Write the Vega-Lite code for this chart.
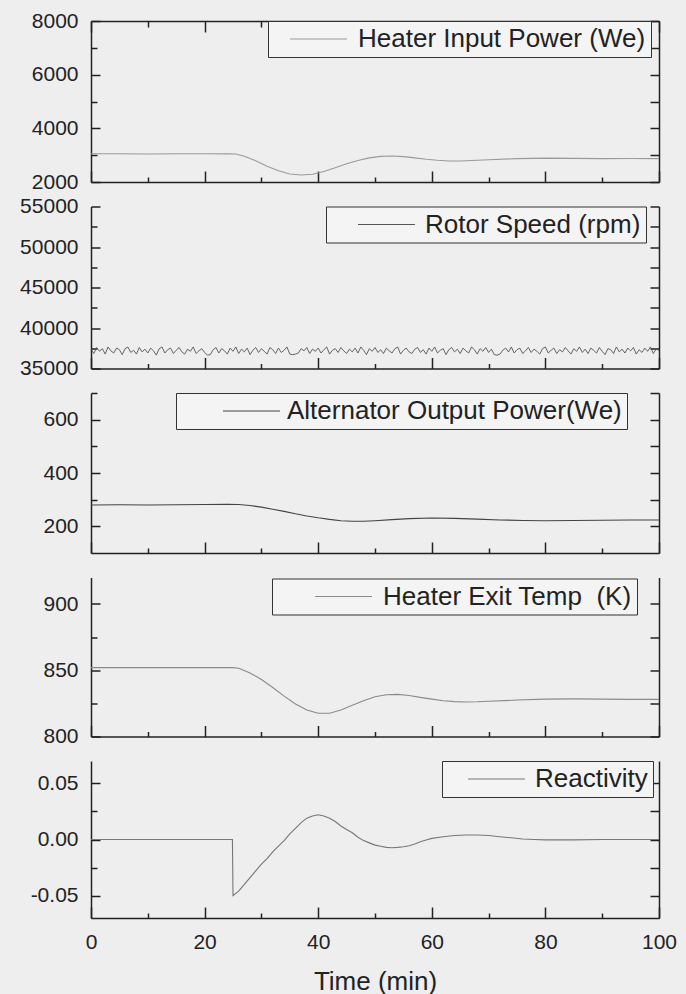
{
  "$schema": "https://vega.github.io/schema/vega-lite/v6.json",
  "background": "#eeeeee",
  "padding": {"left": 19, "top": 10, "right": 10, "bottom": 5},
  "spacing": 24.5,
  "bounds": "flush",
  "config": {
    "view": {"stroke": null},
    "font": "Liberation Sans",
    "axis": {"grid": false, "domainColor": "#222222", "domainWidth": 1.5, "tickColor": "#222222", "tickWidth": 1.5, "labelFont": "Liberation Sans", "labelFontSize": 21, "labelColor": "#222222", "titleFont": "Liberation Sans", "titleFontSize": 26, "titleFontWeight": "normal", "titleColor": "#222222"},
    "legend": {"symbolType": "M-5.7,0H5.7", "symbolSize": 100, "symbolStrokeWidth": 1.2, "labelFont": "Liberation Sans", "labelFontSize": 26, "labelColor": "#222222", "strokeColor": "#333333", "fillColor": "#f4f4f4", "padding": 5, "labelLimit": 0},
    "line": {"strokeWidth": 1.1}
  },
  "resolve": {"scale": {"color": "independent"}},
  "datasets": {
    "hip": [
      {"t": 0, "v": 3050}, {"t": 5, "v": 3055}, {"t": 10, "v": 3045}, {"t": 15, "v": 3055}, {"t": 20, "v": 3050}, {"t": 24, "v": 3050}, {"t": 25.5, "v": 3045}, {"t": 27, "v": 2960}, {"t": 29, "v": 2790}, {"t": 31, "v": 2590}, {"t": 33, "v": 2420}, {"t": 35, "v": 2300}, {"t": 37, "v": 2260}, {"t": 39, "v": 2290}, {"t": 41, "v": 2390}, {"t": 43, "v": 2530}, {"t": 45, "v": 2680}, {"t": 47, "v": 2800}, {"t": 49, "v": 2900}, {"t": 51, "v": 2955}, {"t": 53, "v": 2970}, {"t": 55, "v": 2945}, {"t": 57, "v": 2900}, {"t": 59, "v": 2850}, {"t": 61, "v": 2810}, {"t": 63, "v": 2785}, {"t": 65, "v": 2785}, {"t": 67, "v": 2800}, {"t": 70, "v": 2830}, {"t": 75, "v": 2870}, {"t": 80, "v": 2890}, {"t": 85, "v": 2880}, {"t": 90, "v": 2870}, {"t": 95, "v": 2875}, {"t": 100, "v": 2870}
    ],
    "rs": [
      {"t": 0, "v": 37390}, {"t": 0.5, "v": 36850}, {"t": 1, "v": 37590}, {"t": 1.5, "v": 37120}, {"t": 2, "v": 37450}, {"t": 2.5, "v": 36780}, {"t": 3, "v": 37660}, {"t": 3.5, "v": 37180}, {"t": 4, "v": 36910}, {"t": 4.5, "v": 37520},
      {"t": 5, "v": 37320}, {"t": 5.5, "v": 36710}, {"t": 6, "v": 37450}, {"t": 6.5, "v": 37660}, {"t": 7, "v": 36980}, {"t": 7.5, "v": 37250}, {"t": 8, "v": 36780}, {"t": 8.5, "v": 37590}, {"t": 9, "v": 37050}, {"t": 9.5, "v": 37390},
      {"t": 10, "v": 36910}, {"t": 10.5, "v": 37520}, {"t": 11, "v": 37180}, {"t": 11.5, "v": 36650}, {"t": 12, "v": 37450}, {"t": 12.5, "v": 37660}, {"t": 13, "v": 36910}, {"t": 13.5, "v": 37320}, {"t": 14, "v": 37520}, {"t": 14.5, "v": 36850},
      {"t": 15, "v": 37250}, {"t": 15.5, "v": 37590}, {"t": 16, "v": 37050}, {"t": 16.5, "v": 36780}, {"t": 17, "v": 37390}, {"t": 17.5, "v": 37120}, {"t": 18, "v": 37660}, {"t": 18.5, "v": 36850}, {"t": 19, "v": 37180}, {"t": 19.5, "v": 37450},
      {"t": 20, "v": 36980}, {"t": 20.5, "v": 36650}, {"t": 21, "v": 36710}, {"t": 21.5, "v": 37320}, {"t": 22, "v": 37590}, {"t": 22.5, "v": 36910}, {"t": 23, "v": 37450}, {"t": 23.5, "v": 37180}, {"t": 24, "v": 36780}, {"t": 24.5, "v": 37520},
      {"t": 25, "v": 37120}, {"t": 25.5, "v": 37660}, {"t": 26, "v": 36850}, {"t": 26.5, "v": 37390}, {"t": 27, "v": 37050}, {"t": 27.5, "v": 37520}, {"t": 28, "v": 36710}, {"t": 28.5, "v": 37250}, {"t": 29, "v": 37590}, {"t": 29.5, "v": 36980},
      {"t": 30, "v": 37450}, {"t": 30.5, "v": 37120}, {"t": 31, "v": 36780}, {"t": 31.5, "v": 37590}, {"t": 32, "v": 37320}, {"t": 32.5, "v": 36850}, {"t": 33, "v": 37520}, {"t": 33.5, "v": 36980}, {"t": 34, "v": 37250}, {"t": 34.5, "v": 37660},
      {"t": 35, "v": 36780}, {"t": 35.5, "v": 36710}, {"t": 36, "v": 36780}, {"t": 36.5, "v": 36910}, {"t": 37, "v": 37450}, {"t": 37.5, "v": 37180}, {"t": 38, "v": 37590}, {"t": 38.5, "v": 36850}, {"t": 39, "v": 37390}, {"t": 39.5, "v": 37120},
      {"t": 40, "v": 37520}, {"t": 40.5, "v": 36910}, {"t": 41, "v": 37320}, {"t": 41.5, "v": 37660}, {"t": 42, "v": 36780}, {"t": 42.5, "v": 37250}, {"t": 43, "v": 37450}, {"t": 43.5, "v": 36980}, {"t": 44, "v": 37590}, {"t": 44.5, "v": 37180},
      {"t": 45, "v": 36850}, {"t": 45.5, "v": 37390}, {"t": 46, "v": 37050}, {"t": 46.5, "v": 37520}, {"t": 47, "v": 36910}, {"t": 47.5, "v": 37660}, {"t": 48, "v": 37250}, {"t": 48.5, "v": 36710}, {"t": 49, "v": 37450}, {"t": 49.5, "v": 37120},
      {"t": 50, "v": 37590}, {"t": 50.5, "v": 36980}, {"t": 51, "v": 37320}, {"t": 51.5, "v": 36850}, {"t": 52, "v": 37520}, {"t": 52.5, "v": 37180}, {"t": 53, "v": 36910}, {"t": 53.5, "v": 37450}, {"t": 54, "v": 37660}, {"t": 54.5, "v": 36780},
      {"t": 55, "v": 37250}, {"t": 55.5, "v": 37520}, {"t": 56, "v": 37050}, {"t": 56.5, "v": 36850}, {"t": 57, "v": 37390}, {"t": 57.5, "v": 37590}, {"t": 58, "v": 36980}, {"t": 58.5, "v": 37320}, {"t": 59, "v": 36780}, {"t": 59.5, "v": 37520},
      {"t": 60, "v": 37120}, {"t": 60.5, "v": 37660}, {"t": 61, "v": 36910}, {"t": 61.5, "v": 37250}, {"t": 62, "v": 37450}, {"t": 62.5, "v": 36710}, {"t": 63, "v": 37320}, {"t": 63.5, "v": 37590}, {"t": 64, "v": 37050}, {"t": 64.5, "v": 37390},
      {"t": 65, "v": 36850}, {"t": 65.5, "v": 37520}, {"t": 66, "v": 37180}, {"t": 66.5, "v": 36910}, {"t": 67, "v": 37660}, {"t": 67.5, "v": 37320}, {"t": 68, "v": 36780}, {"t": 68.5, "v": 37450}, {"t": 69, "v": 37120}, {"t": 69.5, "v": 37590},
      {"t": 70, "v": 36980}, {"t": 70.5, "v": 37390}, {"t": 71, "v": 36710}, {"t": 71.5, "v": 36650}, {"t": 72, "v": 36780}, {"t": 72.5, "v": 37250}, {"t": 73, "v": 37520}, {"t": 73.5, "v": 37050}, {"t": 74, "v": 37660}, {"t": 74.5, "v": 36910},
      {"t": 75, "v": 37320}, {"t": 75.5, "v": 37520}, {"t": 76, "v": 36850}, {"t": 76.5, "v": 37180}, {"t": 77, "v": 37590}, {"t": 77.5, "v": 36980}, {"t": 78, "v": 37390}, {"t": 78.5, "v": 37120}, {"t": 79, "v": 36780}, {"t": 79.5, "v": 37450},
      {"t": 80, "v": 37660}, {"t": 80.5, "v": 36910}, {"t": 81, "v": 37250}, {"t": 81.5, "v": 37520}, {"t": 82, "v": 36850}, {"t": 82.5, "v": 37320}, {"t": 83, "v": 37050}, {"t": 83.5, "v": 37590}, {"t": 84, "v": 37180}, {"t": 84.5, "v": 36780},
      {"t": 85, "v": 37450}, {"t": 85.5, "v": 37120}, {"t": 86, "v": 37660}, {"t": 86.5, "v": 36980}, {"t": 87, "v": 37390}, {"t": 87.5, "v": 36850}, {"t": 88, "v": 37520}, {"t": 88.5, "v": 37250}, {"t": 89, "v": 36910}, {"t": 89.5, "v": 37590},
      {"t": 90, "v": 37120}, {"t": 90.5, "v": 36710}, {"t": 91, "v": 37450}, {"t": 91.5, "v": 37320}, {"t": 92, "v": 36850}, {"t": 92.5, "v": 37660}, {"t": 93, "v": 37050}, {"t": 93.5, "v": 37390}, {"t": 94, "v": 36910}, {"t": 94.5, "v": 37520},
      {"t": 95, "v": 37180}, {"t": 95.5, "v": 37590}, {"t": 96, "v": 36780}, {"t": 96.5, "v": 37320}, {"t": 97, "v": 36980}, {"t": 97.5, "v": 37520}, {"t": 98, "v": 37120}, {"t": 98.5, "v": 37660}, {"t": 99, "v": 36850}, {"t": 99.5, "v": 37390},
      {"t": 100, "v": 37250}
    ],
    "ao": [
      {"t": 0, "v": 280}, {"t": 5, "v": 281}, {"t": 10, "v": 280}, {"t": 15, "v": 281}, {"t": 20, "v": 282}, {"t": 24, "v": 283}, {"t": 26, "v": 282}, {"t": 28, "v": 278}, {"t": 30, "v": 272}, {"t": 32, "v": 264}, {"t": 34, "v": 256}, {"t": 36, "v": 247}, {"t": 38, "v": 239}, {"t": 40, "v": 232}, {"t": 42, "v": 226}, {"t": 44, "v": 221}, {"t": 46, "v": 219}, {"t": 48, "v": 219}, {"t": 50, "v": 221}, {"t": 53, "v": 225}, {"t": 56, "v": 229}, {"t": 60, "v": 231}, {"t": 64, "v": 230}, {"t": 68, "v": 227}, {"t": 72, "v": 224}, {"t": 76, "v": 222}, {"t": 80, "v": 221}, {"t": 85, "v": 222}, {"t": 90, "v": 223}, {"t": 95, "v": 224}, {"t": 100, "v": 224}
    ],
    "het": [
      {"t": 0, "v": 852}, {"t": 10, "v": 852}, {"t": 20, "v": 852}, {"t": 25, "v": 852}, {"t": 26, "v": 851.5}, {"t": 28, "v": 848}, {"t": 30, "v": 843}, {"t": 32, "v": 837}, {"t": 34, "v": 830.5}, {"t": 36, "v": 824.5}, {"t": 38, "v": 820}, {"t": 40, "v": 817.5}, {"t": 42, "v": 817.5}, {"t": 44, "v": 820}, {"t": 46, "v": 823.5}, {"t": 48, "v": 827}, {"t": 50, "v": 830}, {"t": 52, "v": 831.5}, {"t": 54, "v": 831.8}, {"t": 56, "v": 831}, {"t": 58, "v": 829.5}, {"t": 60, "v": 828.2}, {"t": 62, "v": 827}, {"t": 64, "v": 826.3}, {"t": 66, "v": 826}, {"t": 68, "v": 826.2}, {"t": 70, "v": 826.6}, {"t": 75, "v": 827.5}, {"t": 80, "v": 828.2}, {"t": 85, "v": 828.4}, {"t": 90, "v": 828.2}, {"t": 95, "v": 828}, {"t": 100, "v": 828}
    ],
    "re": [
      {"t": 0, "v": 0}, {"t": 10, "v": 0}, {"t": 20, "v": 0}, {"t": 24.9, "v": 0}, {"t": 25, "v": -0.05}, {"t": 26, "v": -0.046}, {"t": 27, "v": -0.04}, {"t": 28, "v": -0.034}, {"t": 29, "v": -0.028}, {"t": 30, "v": -0.022}, {"t": 31, "v": -0.017}, {"t": 32, "v": -0.011}, {"t": 33, "v": -0.006}, {"t": 34, "v": -0.001}, {"t": 35, "v": 0.005}, {"t": 36, "v": 0.01}, {"t": 37, "v": 0.015}, {"t": 38, "v": 0.019}, {"t": 39, "v": 0.021}, {"t": 40, "v": 0.022}, {"t": 41, "v": 0.021}, {"t": 42, "v": 0.019}, {"t": 43, "v": 0.016}, {"t": 44, "v": 0.012}, {"t": 45, "v": 0.009}, {"t": 46, "v": 0.006}, {"t": 47, "v": 0.002}, {"t": 48, "v": -0.001}, {"t": 49, "v": -0.003}, {"t": 50, "v": -0.005}, {"t": 51, "v": -0.006}, {"t": 52, "v": -0.007}, {"t": 53, "v": -0.0073}, {"t": 54, "v": -0.007}, {"t": 55, "v": -0.0065}, {"t": 56, "v": -0.0055}, {"t": 57, "v": -0.004}, {"t": 58, "v": -0.002}, {"t": 59, "v": -0.0005}, {"t": 60, "v": 0.001}, {"t": 62, "v": 0.0025}, {"t": 64, "v": 0.0035}, {"t": 66, "v": 0.004}, {"t": 68, "v": 0.004}, {"t": 70, "v": 0.0035}, {"t": 72, "v": 0.0025}, {"t": 74, "v": 0.0015}, {"t": 76, "v": 0.0005}, {"t": 78, "v": 0}, {"t": 80, "v": -0.0003}, {"t": 85, "v": -0.0003}, {"t": 90, "v": 0}, {"t": 100, "v": 0}
    ]
  },
  "vconcat": [
    {
      "width": 568, "height": 161,
      "data": {"name": "hip"},
      "layer": [
        {
          "mark": {"type": "line"},
          "encoding": {
            "x": {"field": "t", "type": "quantitative", "scale": {"domain": [0, 100], "nice": false}, "axis": {"orient": "bottom", "values": [0, 10, 20, 30, 40, 50, 60, 70, 80, 90, 100], "labels": false, "title": null, "tickSize": {"condition": {"test": "datum.value % 20 === 0", "value": -11}, "value": -5}, "minExtent": 0, "maxExtent": 2}},
            "y": {"field": "v", "type": "quantitative", "scale": {"domain": [2000, 8000], "nice": false, "zero": false}, "axis": {"orient": "left", "values": [2000, 3000, 4000, 5000, 6000, 7000, 8000], "format": "d", "labelExpr": "datum.value % 2000 === 0 ? datum.label : ''", "tickSize": {"condition": {"test": "datum.value % 2000 === 0", "value": -9}, "value": -6}, "labelPadding": 22, "title": null, "minExtent": 69, "maxExtent": 69}},
            "color": {"datum": "Heater Input Power (We)", "type": "nominal", "scale": {"range": ["#9a9a9a"]}, "legend": {"title": null, "orient": "none", "legendX": 177, "legendY": 0, "symbolOffset": 32.5, "labelOffset": 26.5}}
          }
        },
        {
          "mark": {"type": "line", "opacity": 0},
          "encoding": {
            "x": {"field": "t", "type": "quantitative", "axis": {"orient": "top", "values": [0, 10, 20, 30, 40, 50, 60, 70, 80, 90, 100], "labels": false, "title": null, "tickSize": {"condition": {"test": "datum.value % 20 === 0", "value": -11}, "value": -6}, "minExtent": 0, "maxExtent": 2}},
            "y": {"field": "v", "type": "quantitative", "axis": {"orient": "right", "values": [2000, 3000, 4000, 5000, 6000, 7000, 8000], "labels": false, "title": null, "tickSize": -9, "minExtent": 0, "maxExtent": 2}}
          }
        }
      ],
      "resolve": {"axis": {"x": "independent", "y": "independent"}}
    },
    {
      "width": 568, "height": 162,
      "data": {"name": "rs"},
      "layer": [
        {
          "mark": {"type": "line", "strokeWidth": 0.9},
          "encoding": {
            "x": {"field": "t", "type": "quantitative", "scale": {"domain": [0, 100], "nice": false}, "axis": {"orient": "bottom", "values": [0, 10, 20, 30, 40, 50, 60, 70, 80, 90, 100], "labels": false, "title": null, "tickSize": {"condition": {"test": "datum.value % 20 === 0", "value": -11}, "value": -5}, "minExtent": 0, "maxExtent": 2}},
            "y": {"field": "v", "type": "quantitative", "scale": {"domain": [35000, 55000], "nice": false, "zero": false}, "axis": {"orient": "left", "values": [35000, 37500, 40000, 42500, 45000, 47500, 50000, 52500, 55000], "format": "d", "labelExpr": "datum.value % 5000 === 0 ? datum.label : ''", "tickSize": {"condition": {"test": "datum.value % 5000 === 0", "value": -9}, "value": -6}, "labelPadding": 22, "title": null, "minExtent": 69, "maxExtent": 69}},
            "color": {"datum": "Rotor Speed (rpm)", "type": "nominal", "scale": {"range": ["#555555"]}, "legend": {"title": null, "orient": "none", "legendX": 235, "legendY": 0, "symbolOffset": 42.5, "labelOffset": 25.5}}
          }
        },
        {
          "mark": {"type": "line", "opacity": 0},
          "encoding": {
            "x": {"field": "t", "type": "quantitative", "axis": null},
            "y": {"field": "v", "type": "quantitative", "axis": {"orient": "right", "values": [35000, 37500, 40000, 42500, 45000, 47500, 50000, 52500, 55000], "labels": false, "title": null, "tickSize": -9, "minExtent": 0, "maxExtent": 2}}
          }
        }
      ],
      "resolve": {"axis": {"x": "independent", "y": "independent"}}
    },
    {
      "width": 568, "height": 160,
      "data": {"name": "ao"},
      "layer": [
        {
          "mark": {"type": "line"},
          "encoding": {
            "x": {"field": "t", "type": "quantitative", "scale": {"domain": [0, 100], "nice": false}, "axis": {"orient": "bottom", "values": [0, 10, 20, 30, 40, 50, 60, 70, 80, 90, 100], "labels": false, "title": null, "tickSize": {"condition": {"test": "datum.value % 20 === 0", "value": -11}, "value": -5}, "minExtent": 0, "maxExtent": 2}},
            "y": {"field": "v", "type": "quantitative", "scale": {"domain": [100, 700], "nice": false, "zero": false}, "axis": {"orient": "left", "values": [200, 300, 400, 500, 600, 700], "format": "d", "labelExpr": "datum.value % 200 === 0 ? datum.label : ''", "tickSize": {"condition": {"test": "datum.value % 200 === 0", "value": -9}, "value": -6}, "labelPadding": 22, "title": null, "minExtent": 69, "maxExtent": 69}},
            "color": {"datum": "Alternator Output Power(We)", "type": "nominal", "scale": {"range": ["#444444"]}, "legend": {"title": null, "orient": "none", "legendX": 85, "legendY": 0, "symbolOffset": 57.5, "labelOffset": 22.5}}
          }
        },
        {
          "mark": {"type": "line", "opacity": 0},
          "encoding": {
            "x": {"field": "t", "type": "quantitative", "axis": null},
            "y": {"field": "v", "type": "quantitative", "axis": {"orient": "right", "values": [200, 300, 400, 500, 600, 700], "labels": false, "title": null, "tickSize": -9, "minExtent": 0, "maxExtent": 2}}
          }
        }
      ],
      "resolve": {"axis": {"x": "independent", "y": "independent"}}
    },
    {
      "width": 568, "height": 159,
      "data": {"name": "het"},
      "layer": [
        {
          "mark": {"type": "line"},
          "encoding": {
            "x": {"field": "t", "type": "quantitative", "scale": {"domain": [0, 100], "nice": false}, "axis": {"orient": "bottom", "values": [0, 10, 20, 30, 40, 50, 60, 70, 80, 90, 100], "labels": false, "title": null, "tickSize": {"condition": {"test": "datum.value % 20 === 0", "value": -11}, "value": -5}, "minExtent": 0, "maxExtent": 2}},
            "y": {"field": "v", "type": "quantitative", "scale": {"domain": [800, 920], "nice": false, "zero": false}, "axis": {"orient": "left", "values": [800, 825, 850, 875, 900], "format": "d", "labelExpr": "datum.value % 50 === 0 ? datum.label : ''", "tickSize": {"condition": {"test": "datum.value % 50 === 0", "value": -9}, "value": -6}, "labelPadding": 22, "title": null, "minExtent": 69, "maxExtent": 69}},
            "color": {"datum": "Heater Exit Temp\u00a0 (K)", "type": "nominal", "scale": {"range": ["#8a8a8a"]}, "legend": {"title": null, "orient": "none", "legendX": 181, "legendY": 1, "symbolOffset": 53.5, "labelOffset": 26.5}}
          }
        },
        {
          "mark": {"type": "line", "opacity": 0},
          "encoding": {
            "x": {"field": "t", "type": "quantitative", "axis": null},
            "y": {"field": "v", "type": "quantitative", "axis": {"orient": "right", "values": [800, 825, 850, 875, 900], "labels": false, "title": null, "tickSize": -9, "minExtent": 0, "maxExtent": 2}}
          }
        }
      ],
      "resolve": {"axis": {"x": "independent", "y": "independent"}}
    },
    {
      "width": 568, "height": 157,
      "data": {"name": "re"},
      "layer": [
        {
          "mark": {"type": "line"},
          "encoding": {
            "x": {"field": "t", "type": "quantitative", "scale": {"domain": [0, 100], "nice": false}, "axis": {"orient": "bottom", "values": [0, 10, 20, 30, 40, 50, 60, 70, 80, 90, 100], "labelExpr": "datum.value % 20 === 0 ? datum.label : ''", "labelPadding": 24, "title": "Time (min)", "titlePadding": 16, "tickSize": {"condition": {"test": "datum.value % 20 === 0", "value": -11}, "value": -5}, "labelFlush": false}},
            "y": {"field": "v", "type": "quantitative", "scale": {"domain": [-0.07, 0.07], "nice": false, "zero": false}, "axis": {"orient": "left", "values": [-0.05, -0.025, 0, 0.025, 0.05], "format": ".2f", "labelExpr": "abs(abs(datum.value) - 0.025) < 0.001 ? '' : replace(datum.label, '\u2212', '-')", "tickSize": {"condition": {"test": "abs(abs(datum.value) - 0.025) < 0.001", "value": -6}, "value": -9}, "labelPadding": 22, "title": null, "minExtent": 69, "maxExtent": 69}},
            "color": {"datum": "Reactivity", "type": "nominal", "scale": {"range": ["#777777"]}, "legend": {"title": null, "orient": "none", "legendX": 351, "legendY": 0, "symbolOffset": 36.5, "labelOffset": 25.5}}
          }
        },
        {
          "mark": {"type": "line", "opacity": 0},
          "encoding": {
            "x": {"field": "t", "type": "quantitative", "axis": null},
            "y": {"field": "v", "type": "quantitative", "axis": {"orient": "right", "values": [-0.05, -0.025, 0, 0.025, 0.05], "labels": false, "title": null, "tickSize": -9, "minExtent": 0, "maxExtent": 2}}
          }
        }
      ],
      "resolve": {"axis": {"x": "independent", "y": "independent"}}
    }
  ]
}
